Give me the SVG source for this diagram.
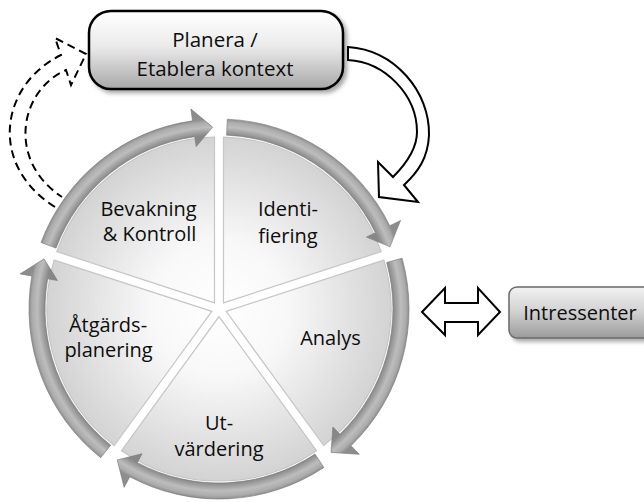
<svg xmlns="http://www.w3.org/2000/svg" width="644" height="502" viewBox="0 0 644 502">
  <style>
    .lbl{font-family:"Open Sans","Liberation Sans",sans-serif;font-size:20px;fill:#0d0d0d;text-anchor:middle}
    .title{font-size:20.5px}
    .sector{fill:url(#secFill);stroke:#c6c6c6;stroke-width:1.2}
    .ring{fill:url(#ringFill);stroke:#7a7a7a;stroke-width:0.6}
    .outline{fill:#fff;stroke:#000;stroke-width:2;stroke-linejoin:miter}
    .dashed{fill:none;stroke:#000;stroke-width:2;stroke-dasharray:8 5}
  </style>
  <defs>
    <radialGradient id="secFill" gradientUnits="userSpaceOnUse" cx="219" cy="309" r="172">
      <stop offset="0" stop-color="#ffffff"/>
      <stop offset="0.4" stop-color="#f8f8f8"/>
      <stop offset="1" stop-color="#d3d3d3"/>
    </radialGradient>
    <radialGradient id="ringFill" gradientUnits="userSpaceOnUse" cx="219" cy="309" r="202">
      <stop offset="0" stop-color="#7a7a7a"/>
      <stop offset="0.812" stop-color="#868686"/>
      <stop offset="0.861" stop-color="#888888"/>
      <stop offset="0.9" stop-color="#bdbdbd"/>
      <stop offset="0.925" stop-color="#acacac"/>
      <stop offset="0.941" stop-color="#8e8e8e"/>
      <stop offset="1" stop-color="#8a8a8a"/>
    </radialGradient>
    <linearGradient id="boxFill" x1="0" y1="0" x2="0" y2="1">
      <stop offset="0" stop-color="#ffffff"/>
      <stop offset="0.45" stop-color="#ebebeb"/>
      <stop offset="1" stop-color="#a8a8a8"/>
    </linearGradient>
    <linearGradient id="tagFill" x1="0" y1="0" x2="0" y2="1">
      <stop offset="0" stop-color="#f2f2f2"/>
      <stop offset="0.5" stop-color="#d0d0d0"/>
      <stop offset="1" stop-color="#9a9a9a"/>
    </linearGradient>
    <filter id="shadow" x="-10%" y="-10%" width="130%" height="140%">
      <feDropShadow dx="3" dy="3" stdDeviation="2" flood-color="#000" flood-opacity="0.35"/>
    </filter>
    <!-- one ring segment with its arrowhead; the others are rotated copies -->
    <path id="ringSeg" d="M227.29,119.18 A190,190 0 0 1 389.77,225.71 L400.56,220.45 L390.02,246.75 L366.40,237.11 L375.39,232.72 A174,174 0 0 0 226.59,135.17 Z"/>
  </defs>

  <!-- connectors -->
  <g id="connectors">
    <path id="feedback-arrow" class="dashed" d="M55,207 C-12,165 0,85 61,55 L55,38 L86,54 L71,85 L66,70 C20,90 6,160 62,197"/>
  </g>

  <!-- process steps -->
  <g id="node-identifiering">
    <path class="sector" d="M223.5,302.9 L223.5,137.1 A172,172 0 0 1 381.2,251.6 Z"/>
    <text class="lbl" x="288" y="216">Identi-</text>
    <text class="lbl" x="288" y="242.5">fiering</text>
  </g>
  <g id="node-analys">
    <path class="sector" d="M226.2,311.4 L383.9,260.1 A172,172 0 0 1 323.7,445.5 Z"/>
    <text class="lbl" x="330.5" y="345">Analys</text>
  </g>
  <g id="node-utvardering">
    <path class="sector" d="M219,316.6 L316.5,450.7 A172,172 0 0 1 121.5,450.7 Z"/>
    <text class="lbl" x="219" y="430">Ut-</text>
    <text class="lbl" x="219" y="456">värdering</text>
  </g>
  <g id="node-atgardsplanering">
    <path class="sector" d="M211.8,311.4 L114.3,445.5 A172,172 0 0 1 54.1,260.1 Z"/>
    <text class="lbl" x="108" y="331.5">Åtgärds-</text>
    <text class="lbl" x="108.5" y="356.5">planering</text>
  </g>
  <g id="node-bevakning">
    <path class="sector" d="M214.5,302.9 L56.8,251.6 A172,172 0 0 1 214.5,137.1 Z"/>
    <text class="lbl" x="148.5" y="215.5">Bevakning</text>
    <text class="lbl" x="149.5" y="241">&amp; Kontroll</text>
  </g>

  <!-- cycle arrows around the wheel -->
  <g id="cycle-ring">
    <use href="#ringSeg" class="ring"/>
    <use href="#ringSeg" class="ring" transform="rotate(72 219 309)"/>
    <use href="#ringSeg" class="ring" transform="rotate(144 219 309)"/>
    <use href="#ringSeg" class="ring" transform="rotate(216 219 309)"/>
    <use href="#ringSeg" class="ring" transform="rotate(288 219 309)"/>
  </g>

  <g id="node-planera">
    <rect x="89" y="11" width="254" height="78" rx="22" ry="22" fill="url(#boxFill)" stroke="#000" stroke-width="2.5" filter="url(#shadow)"/>
    <text class="lbl title" x="215" y="46.5">Planera /</text>
    <text class="lbl title" x="215" y="76">Etablera kontext</text>
  </g>

  <g id="node-intressenter">
    <rect x="509" y="287" width="150" height="51" rx="8" ry="8" fill="url(#tagFill)" stroke="#6a6a6a" stroke-width="1.5" filter="url(#shadow)"/>
    <text class="lbl" x="580" y="320">Intressenter</text>
  </g>

  <g id="connectors-2">
    <path id="start-arrow" class="outline" d="M348,47 C395,50 430,92 429,135 C428,158 418,172 404,185 L418,202 L379,197 L378,162 L393,177 C405,165 417,150 417,132 C417,95 385,62 348,60 Z"/>
    <path id="stakeholder-arrow" class="outline" stroke-width="1.5" d="M422,312 L445,288 L445,303 L478,303 L478,288 L500,312 L478,335 L478,322 L445,322 L445,335 Z"/>
  </g>
</svg>
